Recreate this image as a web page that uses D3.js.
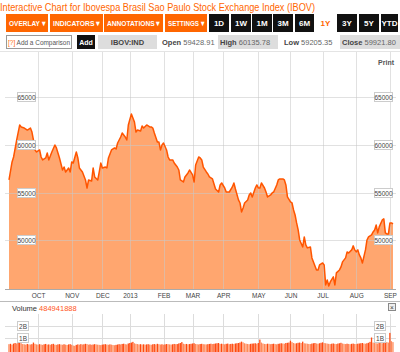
<!DOCTYPE html>
<html><head><meta charset="utf-8">
<script src="https://cdn.jsdelivr.net/npm/d3@7"></script>
<style>body{margin:0;background:#fff}svg{display:block;font-family:"Liberation Sans",Arial,sans-serif}</style>
</head><body>
<svg id="c" width="400" height="352"></svg>
<script>
// ---- data (trading-day index, close) ----
const days = [0,2,3,5,7,8,10,12,14,15,16,17,18,20,21,22,24,25,26,28,30,31,33,35,36,37,39,40,41,42,44,45,46,48,50,51,52,54,55,56,58,59,60,61,63,64,65,67,69,70,71,73,74,76,77,78,80,82,83,84,86,87,88,90,92,93,94,95,97,98,99,100,101,103,104,105,107,108,110,111,112,114,115,117,118,120,121,122,124,125,126,127,129,130,131,133,134,135,137,138,139,141,142,143,144,146,147,148,150,151,152,153,154,156,157,158,159,161,162,163,164,165,167,168,169,171,172,173,175,176,177,179,180,181,182,184,185,186,187,188,189,190,192,193,194,195,197,198,199,201,202,203,205,206,207,208,209,210,212,213,214,216,217,218,220,221,222,224,225,226,227,228,229,230,231,233,234,235,237,238,239,240,241,242,244,245,246,247,248,249,250,251];
const closes = [56330,58220,58740,60520,62100,61890,61780,61570,61780,61360,60520,59480,59270,59480,58740,58430,58640,59160,58430,59270,60000,59690,58640,57380,57690,57170,57590,57170,58220,58110,59270,58640,57590,57170,56330,55490,56330,56230,57590,56650,56330,57170,58110,57590,57690,57590,58640,59480,59690,59580,60210,60840,61260,60840,60520,62100,63250,62410,61360,61570,61470,61990,61780,62100,61890,61890,61780,61260,60310,60310,59480,60000,60210,59480,58740,58430,58430,58110,57690,57380,56330,56120,56650,57070,57380,56860,56120,57900,58740,58640,58430,57690,57170,56960,56650,56440,55910,55390,55070,55810,56020,55490,55070,55070,55070,55600,56020,55390,54240,53920,52980,53400,53920,54240,54760,54970,54550,55490,55810,55490,55490,56020,55490,55070,54550,54760,54970,55070,55810,56330,56440,56440,56330,55810,54550,54030,53920,53190,52660,51830,51090,50040,49310,50360,49520,49210,49310,48160,47740,46900,46900,47420,47630,47420,45330,45850,45220,45640,46170,45330,46590,46900,47210,47740,48160,48790,48680,49000,49420,49000,48790,49000,48470,48160,47630,49000,50040,50360,50570,50880,51090,51620,50780,51410,52140,52250,50780,50670,50670,51830,51830,51720];
// daily volume, millions of shares
const volumes = [420,450,380,470,520,480,540,650,500,430,410,380,440,400,390,420,560,450,400,380,420,390,360,410,440,380,400,370,420,450,380,360,400,420,390,370,410,380,350,400,420,370,300,280,360,400,380,420,390,410,450,430,380,400,370,390,420,400,380,360,340,380,400,420,390,370,400,380,350,330,360,390,420,400,440,460,420,400,480,520,560,620,500,450,430,400,420,390,410,380,400,420,390,370,410,430,400,450,420,390,410,380,400,430,420,400,390,410,440,420,430,480,520,600,460,420,440,410,430,450,480,500,440,420,400,430,450,420,410,400,420,440,460,430,450,480,500,520,440,460,430,410,450,470,420,440,460,430,480,500,520,560,640,580,500,460,440,420,450,470,480,500,460,520,820,560,480,440,430,460,450,420,440,460,430,410,450,470,500,480,460,520,540,560,720,600,520,480,500,540,560,520,640,500,480,460,440,430,470,500,520,480,460,500,540,580,520,500,470,450,430,460,480,450,430,470,500,540,480,450,430,460,440,420,450,470,440,430,460,480,500,520,480,460,500,540,620,1000,560,520,500,480,560,540,500,580,720,600,560,1400,680,600];
const monthLabels = ["OCT","NOV","DEC","2013","FEB","MAR","APR","MAY","JUN","JUL","AUG","SEP"];
const monthStarts = [19,41,61,79,101,120,140,163,184,205,227,249];
const priceTicks = [50000,55000,60000,65000];
const volTicks = [1e9,2e9];
const volTickLabels = ["1B","2B"];
const title = "Interactive Chart for Ibovespa Brasil Sao Paulo Stock Exchange Index (IBOV)";
const menuButtons = ["OVERLAY ▾","INDICATORS ▾","ANNOTATIONS ▾","SETTINGS ▾"];
const rangeButtons = ["1D","1W","1M","3M","6M","1Y","3Y","5Y","YTD"];
const activeRange = "1Y";
const quote = [["Open","59428.91"],["High","60135.78"],["Low","59205.35"],["Close","59921.80"]];
const symbol = "IBOV:IND";
const volumeLabel = "484941888";

const svg = d3.select("#c");
const ORANGE = "#ff6600";

// title
svg.append("text").attr("x",0).attr("y",11).attr("font-size",11).attr("fill",ORANGE)
  .attr("textLength",315).attr("lengthAdjust","spacingAndGlyphs").text(title);

// menu buttons
const menuX = [6,50,104,165], menuW = [42,53,59,42];
menuButtons.forEach((t,i)=>{
  svg.append("rect").attr("x",menuX[i]).attr("y",14).attr("width",menuW[i]).attr("height",18).attr("fill",ORANGE);
  svg.append("text").attr("x",menuX[i]+3).attr("y",26)
    .attr("font-size",7.5).attr("font-weight","bold").attr("fill","#fff")
    .attr("textLength",menuW[i]-6).attr("lengthAdjust","spacingAndGlyphs").text(t);
});
const rbX = [209,231,252,273,295,316,337,359,381], rbW=[20,20,20,20,19,19,20,20,17];
rangeButtons.forEach((t,i)=>{
  const act = t===activeRange;
  svg.append("rect").attr("x",rbX[i]).attr("y",14).attr("width",rbW[i]).attr("height",18).attr("fill",act?"#fff":"#111");
  svg.append("text").attr("x",rbX[i]+rbW[i]/2).attr("y",26).attr("text-anchor","middle")
    .attr("font-size",8).attr("font-weight","bold").attr("fill",act?ORANGE:"#fff").text(t);
});

// second row
svg.append("rect").attr("x",6.5).attr("y",35.5).attr("width",65).attr("height",13).attr("fill","#fff").attr("stroke","#999");
svg.append("text").attr("x",8).attr("y",45).attr("font-size",7.5).attr("fill","#555")
  .attr("textLength",62).attr("lengthAdjust","spacingAndGlyphs")
  .html('<tspan fill="#ff6600">[?]</tspan> Add a Comparison');
svg.append("rect").attr("x",77).attr("y",35).attr("width",18).attr("height",14).attr("fill","#111");
svg.append("text").attr("x",86).attr("y",45).attr("text-anchor","middle").attr("font-size",7).attr("font-weight","bold").attr("fill","#fff").text("Add");
svg.append("rect").attr("x",98).attr("y",35).attr("width",59).attr("height",14).attr("fill","#ddd");
svg.append("text").attr("x",127.5).attr("y",45).attr("text-anchor","middle").attr("font-size",7.5).attr("font-weight","bold").attr("fill","#444").text(symbol);
const qX=[160,218,282,340], qBg=[false,true,false,true], qW=[56,60,56,60];
quote.forEach((q,i)=>{
  if(qBg[i]) svg.append("rect").attr("x",qX[i]).attr("y",35).attr("width",qW[i]).attr("height",14).attr("fill","#ddd");
  svg.append("text").attr("x",qX[i]+2).attr("y",45).attr("font-size",7.5).attr("fill","#444")
    .html(`<tspan font-weight="bold">${q[0]}</tspan> <tspan fill="#666">${q[1]}</tspan>`);
});

// ---- price chart ----
const x = d3.scaleLinear().domain([0,251]).range([9,393]);
const y = d3.scaleLinear().domain([44900,69750]).range([289,52]);
const data = days.map((d,i)=>({d, v:closes[i]}));

svg.append("line").attr("x1",0).attr("x2",400).attr("y1",51.5).attr("y2",51.5).attr("stroke","#e4e4e4");

const area = d3.area().x(p=>x(p.d)).y0(289).y1(p=>y(p.v));
svg.append("path").datum(data).attr("d",area).attr("fill","#ffa66f");

// grid over area
const grid = svg.append("g").attr("stroke","#c8c8c8").attr("stroke-opacity",0.55);
monthStarts.forEach(m=>grid.append("line").attr("x1",Math.round(x(m))+0.5).attr("x2",Math.round(x(m))+0.5).attr("y1",52).attr("y2",289));
priceTicks.forEach(t=>grid.append("line").attr("x1",5).attr("x2",396).attr("y1",Math.round(y(t))+0.5).attr("y2",Math.round(y(t))+0.5));

const line = d3.line().x(p=>x(p.d)).y(p=>y(p.v));
svg.append("path").datum(data).attr("d",line).attr("fill","none").attr("stroke","#ff5500").attr("stroke-width",1.5).attr("stroke-linejoin","round");

// y labels (boxed), both sides
priceTicks.forEach(t=>{
  [17,374].forEach(bx=>{
    const yy = Math.round(y(t));
    svg.append("rect").attr("x",bx+0.5).attr("y",yy-4.5).attr("width",18).attr("height",9).attr("fill","#fff").attr("stroke","#ccc");
    svg.append("text").attr("x",bx+9.5).attr("y",yy+2.5).attr("text-anchor","middle").attr("font-size",6.5).attr("fill","#444").text(t);
  });
});
svg.append("text").attr("x",394).attr("y",65).attr("text-anchor","end").attr("font-size",7).attr("font-weight","bold").attr("fill","#555").text("Print");

// x axis
svg.append("line").attr("x1",5).attr("x2",396).attr("y1",289.5).attr("y2",289.5).attr("stroke","#aaa");
const xAxis = d3.axisBottom(x).tickValues(monthStarts).tickFormat((d,i)=>monthLabels[i]).tickSize(0).tickPadding(3);
const gx = svg.append("g").attr("transform","translate(0,290)").call(xAxis);
gx.select(".domain").remove();
gx.selectAll("text").attr("font-size",6.5).attr("fill","#444").attr("font-family","Liberation Sans, Arial, sans-serif");

svg.append("line").attr("x1",0).attr("x2",400).attr("y1",301.5).attr("y2",301.5).attr("stroke","#bbb");

// ---- volume panel ----
svg.append("text").attr("x",12).attr("y",311).attr("font-size",7.5).attr("fill","#333")
  .html(`Volume <tspan fill="#ff5522">${volumeLabel}</tspan>`);
svg.append("rect").attr("x",388.5).attr("y",303.5).attr("width",7).attr("height",7).attr("fill","#eee").attr("stroke","#888");
svg.append("text").attr("x",392).attr("y",309.5).attr("text-anchor","middle").attr("font-size",6.5).attr("fill","#333").text("×");

const yv = d3.scaleLinear().domain([0,2e9]).range([349,326]);
const vg = svg.append("g").attr("stroke","#dcdcdc");
monthStarts.forEach(m=>vg.append("line").attr("x1",Math.round(x(m))+0.5).attr("x2",Math.round(x(m))+0.5).attr("y1",314).attr("y2",352));
volTicks.forEach(t=>vg.append("line").attr("x1",5).attr("x2",396).attr("y1",Math.round(yv(t))+0.5).attr("y2",Math.round(yv(t))+0.5));

svg.append("g").selectAll("rect").data(volumes).join("rect")
  .attr("x",(v,i)=>x(i)-0.7).attr("width",1.3)
  .attr("y",v=>yv(v*1e6)).attr("height",v=>352-yv(v*1e6))
  .attr("fill",(v,i)=> i>0 && v>=volumes[i-1] ? "#ff4a10" : "#ff8a5a");

volTicks.forEach((t,i)=>{
  [17,374].forEach(bx=>{
    const yy = Math.round(yv(t));
    svg.append("rect").attr("x",bx+0.5).attr("y",yy-4.5).attr("width",11).attr("height",9).attr("fill","#fff").attr("stroke","#ccc");
    svg.append("text").attr("x",bx+6).attr("y",yy+2.5).attr("text-anchor","middle").attr("font-size",6.5).attr("fill","#444").text(volTickLabels[i]);
  });
});
</script>
</body></html>
